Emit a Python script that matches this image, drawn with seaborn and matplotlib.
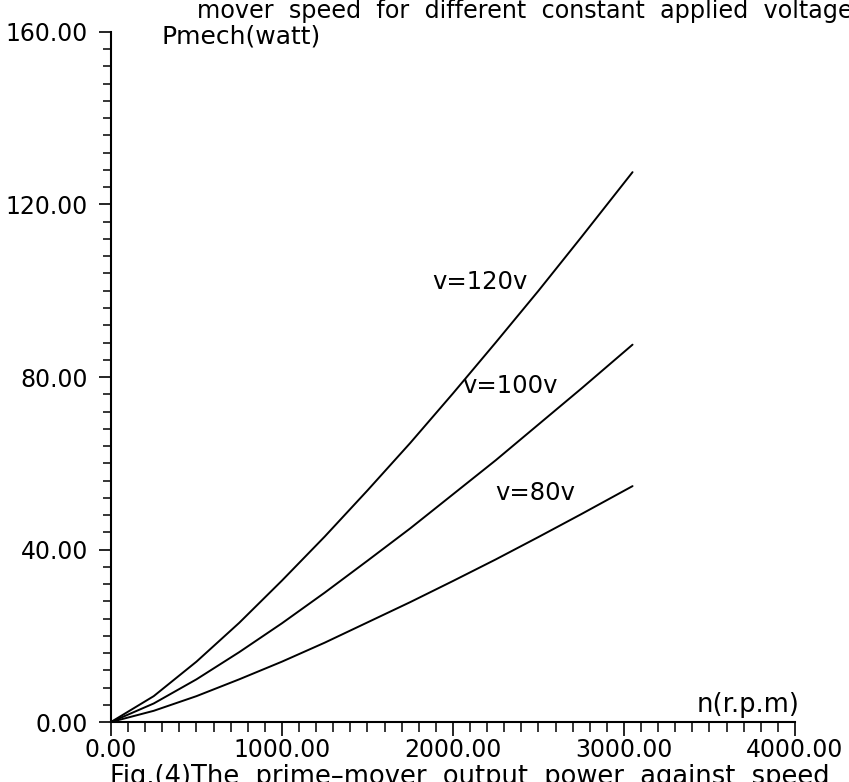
import pandas as pd
import seaborn as sns
import matplotlib.pyplot as plt
from matplotlib.ticker import MultipleLocator, FormatStrFormatter

# --- data (n in r.p.m, P in watt) ---
speed_rpm = [0, 250, 500, 750, 1000, 1250, 1500, 1750, 2000, 2250, 2500, 2750, 3050]
p_120v = [0, 6.0, 14.0, 23.0, 32.8, 43.0, 53.7, 64.7, 76.2, 88.0, 100.0, 112.4, 127.5]
p_100v = [0, 4.3, 9.9, 16.2, 22.9, 30.0, 37.4, 44.9, 52.8, 60.7, 69.0, 77.3, 87.5]
p_80v = [0, 2.6, 6.0, 9.9, 14.0, 18.4, 23.1, 27.8, 32.7, 37.7, 42.9, 48.2, 54.7]

voltage_labels = ['v=120v', 'v=100v', 'v=80v']
label_pos = [(1877, 102), (2053, 78), (2246, 53)]

df = pd.concat([
    pd.DataFrame({'n': speed_rpm, 'P': p, 'v': lab})
    for p, lab in zip([p_120v, p_100v, p_80v], voltage_labels)
])

sns.set_theme(style='ticks')
plt.rcParams['font.family'] = ['DejaVu Sans']
plt.rcParams['text.color'] = 'black'
plt.rcParams['xtick.color'] = 'black'
plt.rcParams['ytick.color'] = 'black'

fig = plt.figure(figsize=(8.49, 7.82), dpi=100)
ax = fig.add_axes([0.1307, 0.0767, 0.8057, 0.8824])

sns.lineplot(data=df, x='n', y='P', hue='v', palette=['black'] * 3,
             legend=False, linewidth=1.4, ax=ax)

ax.set_xlim(0, 4000)
ax.set_ylim(0, 160)
ax.set_xlabel('')
ax.set_ylabel('')
for s in ['top', 'right']:
    ax.spines[s].set_visible(False)
for s in ['left', 'bottom']:
    ax.spines[s].set_linewidth(1.5)
    ax.spines[s].set_color('black')

ax.xaxis.set_major_locator(MultipleLocator(1000))
ax.xaxis.set_minor_locator(MultipleLocator(100))
ax.yaxis.set_major_locator(MultipleLocator(40))
ax.yaxis.set_minor_locator(MultipleLocator(4))
ax.xaxis.set_major_formatter(FormatStrFormatter('%.2f'))
ax.yaxis.set_major_formatter(FormatStrFormatter('%.2f'))

ax.tick_params(axis='x', which='major', direction='out', length=10, width=1.2, pad=1.5,
               labelsize=17, color='black', labelcolor='black')
ax.tick_params(axis='x', which='minor', direction='out', length=7.5, width=1.1, color='black')
ax.tick_params(axis='y', which='major', direction='out', length=9, width=1.2, pad=7.5,
               labelsize=17, color='black', labelcolor='black')
ax.tick_params(axis='y', which='minor', direction='out', length=6, width=1.1, color='black')

for lab, (x, y) in zip(voltage_labels, label_pos):
    ax.text(x, y, lab, fontsize=17.5, ha='left', va='center')

ax.text(298, 159, 'Pmech(watt)', fontsize=18, ha='left', va='center', clip_on=False)
ax.text(3425, 4, 'n(r.p.m)', fontsize=18.5, ha='left', va='center')

# caption lines of the scanned page, cut by the crop as in the original
fig.text(197 / 849, 1 - 11 / 782, 'mover  speed  for  different  constant  applied  voltages',
         fontsize=17.2, ha='left', va='center')
fig.text(110 / 849, 1 - 764 / 782, 'Fig.(4)The  prime\u2013mover  output  power  against  speed',
         fontsize=18.5, ha='left', va='top')

fig.savefig('out.png', dpi=100)
